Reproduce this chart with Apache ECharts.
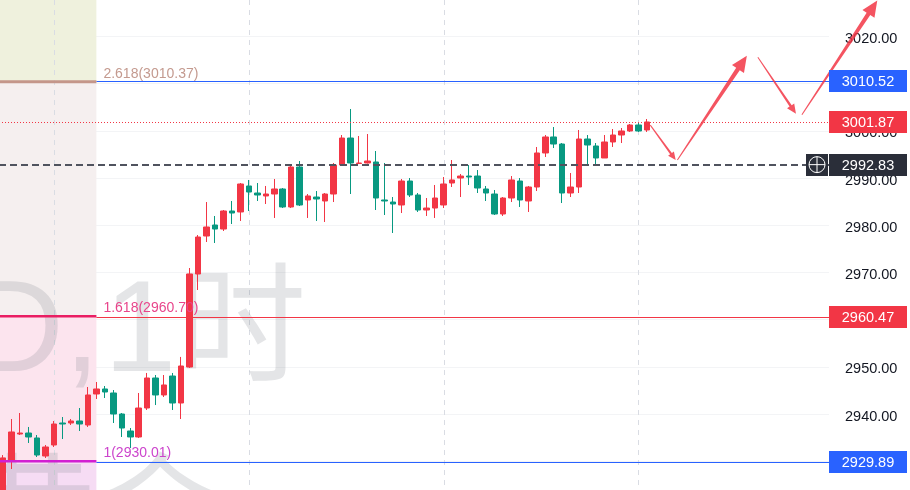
<!DOCTYPE html>
<html><head><meta charset="utf-8">
<script src="https://cdn.jsdelivr.net/npm/echarts@6.0.0/dist/echarts.min.js"></script>
<style>html,body{margin:0;padding:0;background:#fff;overflow:hidden}#c{width:910px;height:490px}</style>
</head><body><div id="c"></div>
<script>
// ---------- data ----------
const candleOpen = [2922.0,2930.25,2935.76,2935.97,2934.92,2931.10,2933.43,2938.09,2938.09,2938.52,2937.67,2944.24,2945.30,2944.45,2940.00,2936.40,2935.13,2941.27,2947.63,2944.03,2948.05,2942.33,2949.96,2969.66,2977.71,2980.04,2979.19,2983.01,2982.80,2988.31,2986.82,2986.19,2986.61,2987.67,2983.86,2992.33,2985.34,2985.97,2985.13,2986.61,2992.75,2998.47,2993.07,2993.18,2993.39,2985.34,2984.91,2984.28,2989.36,2986.40,2983.22,2983.64,2984.28,2988.94,2990.00,2990.42,2990.42,2987.67,2986.61,2982.37,2985.76,2989.36,2985.13,2988.09,2995.30,2998.69,2997.20,2986.82,2988.09,2998.26,2996.78,2994.24,2997.63,2999.11,2999.96,3001.23,3000.17];
const candleClose = [2930.7,2936.19,2935.97,2935.13,2931.31,2933.01,2937.88,2937.88,2938.52,2937.88,2944.03,2945.30,2944.66,2940.00,2937.03,2935.13,2941.27,2947.63,2944.03,2946.15,2942.33,2950.17,2969.66,2977.50,2979.62,2979.19,2983.01,2982.58,2988.73,2987.03,2986.40,2986.61,2987.67,2983.86,2992.33,2984.28,2986.19,2985.55,2986.61,2992.75,2998.47,2993.18,2993.18,2993.60,2985.76,2985.13,2984.49,2989.36,2986.40,2983.22,2983.64,2985.76,2988.73,2989.58,2990.42,2990.21,2987.88,2986.82,2982.37,2985.76,2989.58,2985.34,2988.09,2995.30,2998.69,2997.20,2986.82,2988.09,2998.26,2996.99,2994.24,2997.63,2999.11,2999.96,3001.23,2999.96,3001.87];
const candleLow = [2920.7,2928.35,2935.55,2933.86,2930.89,2930.68,2933.01,2934.70,2937.67,2936.40,2937.25,2943.18,2943.39,2938.09,2935.13,2932.80,2934.92,2940.85,2941.90,2943.60,2940.85,2938.94,2949.75,2966.27,2976.44,2976.23,2978.77,2980.25,2980.89,2983.01,2985.13,2984.49,2981.53,2983.64,2983.64,2984.07,2981.53,2980.89,2980.68,2984.91,2992.75,2986.61,2992.96,2993.07,2983.22,2982.16,2978.35,2982.58,2985.97,2982.80,2981.95,2981.53,2983.64,2988.09,2985.97,2988.52,2986.82,2985.13,2982.16,2981.95,2984.91,2983.86,2982.80,2987.24,2994.45,2996.35,2984.70,2985.97,2986.82,2992.75,2992.75,2994.24,2996.57,2997.41,2999.75,2999.75,2999.75];
const candleHigh = [2931.3,2938.94,2940.21,2937.25,2935.55,2933.43,2938.52,2939.36,2938.94,2941.27,2945.72,2946.78,2945.93,2945.08,2940.21,2937.03,2944.45,2948.69,2948.26,2948.26,2948.69,2952.09,2970.93,2977.92,2984.91,2981.95,2983.22,2985.13,2988.94,2989.58,2988.94,2988.31,2989.79,2987.88,2992.75,2993.60,2986.61,2987.24,2986.82,2993.18,2999.11,3004.62,2998.90,2999.32,2995.72,2993.18,2985.97,2989.79,2990.00,2986.82,2985.76,2988.52,2990.21,2993.81,2990.85,2992.75,2991.69,2988.31,2987.46,2985.97,2990.42,2990.00,2988.31,2996.57,2999.11,3000.80,2997.41,2991.06,3000.17,2999.11,2997.41,2999.11,3000.38,3000.59,3001.44,3001.65,3002.50];
const slotCount = 98;                        // bar slots incl. empty space on the right
const categories = Array.from({length: slotCount}, (_, i) => 'b' + i);
const yMin = 2920, yMax = 3030, yStep = 10;
const timeGridIdx = [6, 29, 52, 75];          // vertical time grid lines (bar index)
const priceLineValues = [3010.52, 3001.87, 2992.83, 2960.47, 2929.89];
const priceLineKinds = ['blue', 'last', 'mark', 'red', 'blue'];
const fibRatios = ['2.618', '1.618', '1'];
const fibPrices = [3010.37, 2960.70, 2930.01];
const fibEndIdx = 11;
const watermarkLine1 = ['XAUUSD,', '1时'];
const watermarkLine2 = '黄金';
const arrowFrom = [[76.4, 3001.2], [79.6, 2993.8], [89.1, 3015.6], [94.3, 3003.4]];
const arrowTo   = [[79.4, 2993.8], [87.8, 3015.9], [93.6, 3003.6], [103.2, 3027.6]];

// ---------- chart ----------
const UP = '#f23645', DOWN = '#089981';
const candles = candleOpen.map((o, i) => [o, candleClose[i], candleLow[i], candleHigh[i]]);
const chart = echarts.init(document.getElementById('c'), null, {renderer: 'canvas'});
const FONT = '"Liberation Sans", Arial, "Noto Sans CJK SC", sans-serif';
chart.setOption({
  animation: false,
  backgroundColor: '#ffffff',
  grid: {left: -1, right: 81, top: -10.8, bottom: -18.4, containLabel: false, outerBoundsMode: 'none'},
  xAxis: [
    {type: 'category', data: categories, boundaryGap: true, show: false},
    {type: 'value', min: -0.5, max: slotCount - 0.5, show: false}
  ],
  yAxis: [{
    type: 'value', position: 'right', min: yMin, max: yMax, interval: yStep,
    axisLine: {show: true, lineStyle: {color: '#e0e3eb', width: 1}},
    axisTick: {show: false},
    axisLabel: {margin: 16, color: '#131722', fontSize: 14.5, fontFamily: FONT,
      formatter: v => '{l|' + v.toFixed(2) + '}',
      rich: {l: {padding: [5, 0, 0, 0], fontSize: 14.5, fontFamily: FONT, color: '#131722'}},
      showMinLabel: true, showMaxLabel: true},
    splitLine: {show: true, lineStyle: {color: '#f3f4f6', width: 1}}
  }],
  series: [{
    type: 'candlestick', xAxisIndex: 0, yAxisIndex: 0, z: 5,
    data: candles, barWidth: 6,
    itemStyle: {color: UP, color0: DOWN, borderColor: UP, borderColor0: DOWN, borderWidth: 1}
  }]
});

function px(x) { return chart.convertToPixel({xAxisIndex: 1}, x); }
function py(v) { return chart.convertToPixel({yAxisIndex: 0}, v); }
const crisp = v => Math.round(v) + 0.5;

const g = [];
const L = px(-0.5), R = px(slotCount - 0.5), T = py(yMax), B = py(yMin);
const fibX = px(fibEndIdx);

// fib zones
const zoneColors = ['#eff1dd', '#f5efef', '#fce4ee', '#f6dcf4'];
const bounds = [T, py(fibPrices[0]), py(fibPrices[1]), py(fibPrices[2]), B];
for (let i = 0; i < 4; i++) {
  g.push({type: 'rect', z: 1, silent: true,
    shape: {x: L, y: bounds[i], width: fibX - L, height: bounds[i + 1] - bounds[i]},
    style: {fill: zoneColors[i]}});
}
// vertical grid lines
timeGridIdx.forEach(i => {
  const x = crisp(px(i));
  g.push({type: 'line', z: 1, silent: true, shape: {x1: x, y1: 0, x2: x, y2: 490},
    style: {stroke: '#d9dce3', lineWidth: 1, lineDash: [5, 5]}});
});
// watermark
const wmFill = 'rgba(120,123,134,0.2)';
g.push({type: 'text', z: 2, silent: true, style: {text: watermarkLine1[0], x: 100, y: 400,
  textAlign: 'right', textVerticalAlign: 'bottom', font: '130px ' + FONT, fill: wmFill}});
g.push({type: 'text', z: 2, silent: true, style: {text: watermarkLine1[1], x: 104, y: 400,
  textAlign: 'left', textVerticalAlign: 'bottom', font: '130px ' + FONT, fill: wmFill}});
g.push({type: 'text', z: 2, silent: true, style: {text: watermarkLine2, x: -32, y: 448,
  textAlign: 'left', textVerticalAlign: 'top', font: '128px "Noto Sans CJK SC", sans-serif', fill: wmFill}});

// price lines
const kindStyle = {
  blue: {stroke: '#2962ff', lineWidth: 1, box: '#2962ff'},
  red: {stroke: '#f23645', lineWidth: 1, box: '#f23645'},
  last: {stroke: '#f23645', lineWidth: 1, lineDash: [1, 2], box: '#f23645'},
  mark: {stroke: '#50535e', lineWidth: 2, lineDash: [7, 4], box: '#2a2e39'}
};
priceLineValues.forEach((v, i) => {
  const kind = priceLineKinds[i];
  const s = kindStyle[kind];
  if (kind === 'blue' || kind === 'red') {
    // solid horizontal ray from the fib end to the price scale
    g.push({type: 'rect', z: 6, silent: true,
      shape: {x: fibX, y: Math.round(py(v)), width: R - fibX, height: 1},
      style: {fill: s.stroke}});
  } else {
    const y = s.lineWidth === 1 ? crisp(py(v)) : Math.round(py(v));
    g.push({type: 'line', z: 6, silent: true,
      shape: {x1: L, y1: y, x2: R, y2: y},
      style: {stroke: s.stroke, lineWidth: s.lineWidth, lineDash: s.lineDash}});
  }
});
// fib lines + labels
const fibLineColors = ['#c4968a', '#e91e63', '#d21fd2'];
const fibTextColors = ['#c49a8f', '#e8458b', '#cc44cc'];
fibPrices.forEach((v, i) => {
  const y = py(v);
  g.push({type: 'line', z: 7, silent: true, shape: {x1: L, y1: y, x2: fibX, y2: y},
    style: {stroke: fibLineColors[i], lineWidth: i === 0 ? 3 : 2.5}});
  g.push({type: 'text', z: 7, silent: true, style: {text: fibRatios[i] + '(' + v.toFixed(2) + ')',
    x: fibX + 7, y: y - 8, textAlign: 'left', textVerticalAlign: 'middle',
    font: '14px ' + FONT, fill: fibTextColors[i]}});
});
// arrows
function arrowPoly(p0, p1) {
  const dx = p1[0] - p0[0], dy = p1[1] - p0[1], len = Math.hypot(dx, dy);
  const ux = dx / len, uy = dy / len, nx = -uy, ny = ux;
  const hl = Math.max(8, Math.min(16, len * 0.14)), hw = hl * 0.45, sw = hw * 0.3, tw = 0.5;
  const bx = p1[0] - ux * hl, by = p1[1] - uy * hl;
  return [[p0[0] + nx * tw, p0[1] + ny * tw], [bx + nx * sw, by + ny * sw], [bx + nx * hw, by + ny * hw],
    [p1[0], p1[1]], [bx - nx * hw, by - ny * hw], [bx - nx * sw, by - ny * sw], [p0[0] - nx * tw, p0[1] - ny * tw]];
}
arrowFrom.forEach((a, i) => {
  const p0 = [px(a[0]), py(a[1])], p1 = [px(arrowTo[i][0]), py(arrowTo[i][1])];
  g.push({type: 'polygon', z: 8, silent: true, shape: {points: arrowPoly(p0, p1)},
    style: {fill: 'rgba(242,54,69,0.85)'}});
});
// axis value boxes
priceLineValues.forEach((v, i) => {
  const s = kindStyle[priceLineKinds[i]];
  const yc = py(v);
  g.push({type: 'rect', z: 10, silent: true, shape: {x: R, y: Math.round(yc - 11), width: 78, height: 22},
    style: {fill: s.box}});
  g.push({type: 'text', z: 11, silent: true, style: {text: v.toFixed(2), x: R + 39, y: yc + 1,
    textAlign: 'center', textVerticalAlign: 'middle', font: '14.5px ' + FONT, fill: '#ffffff'}});
  if (priceLineKinds[i] === 'mark') {
    g.push({type: 'rect', z: 10, silent: true, shape: {x: R - 23, y: Math.round(yc - 11), width: 22, height: 22},
      style: {fill: s.box}});
    g.push({type: 'circle', z: 11, silent: true, shape: {cx: R - 12, cy: yc, r: 8},
      style: {fill: 'none', stroke: '#ffffff', lineWidth: 1}});
    g.push({type: 'line', z: 11, silent: true, shape: {x1: R - 12, y1: yc - 8, x2: R - 12, y2: yc + 8},
      style: {stroke: '#ffffff', lineWidth: 1}});
    g.push({type: 'line', z: 11, silent: true, shape: {x1: R - 20, y1: yc, x2: R - 4, y2: yc},
      style: {stroke: '#ffffff', lineWidth: 1}});
  }
});
chart.setOption({graphic: {elements: g}});
</script>
</body></html>
